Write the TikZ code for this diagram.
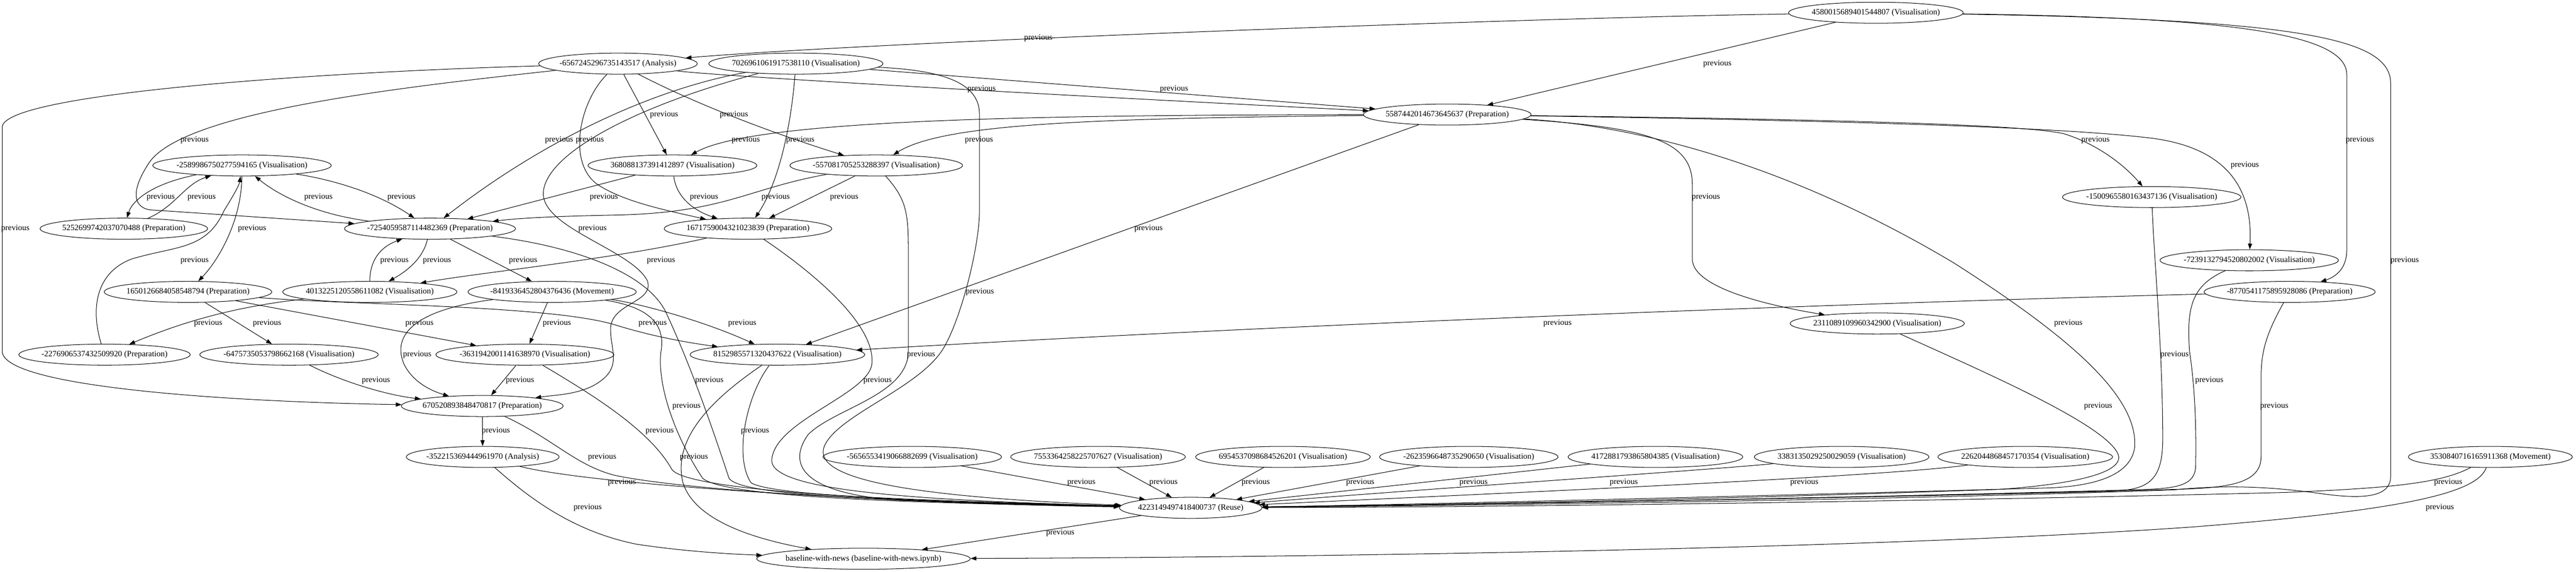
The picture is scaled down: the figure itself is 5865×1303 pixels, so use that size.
\documentclass[tikz,border=0pt]{standalone}
\usepackage{fontspec}
\setmainfont{Liberation Serif}
\usetikzlibrary{shapes.geometric,arrows.meta}
\newcommand{\cellfont}{\fontsize{14pt}{17pt}\selectfont}
\begin{document}
\begin{tikzpicture}[x=0.75pt, y=-0.75pt, line width=0.9pt,
  cell/.style={draw, ellipse, minimum height=36pt, inner xsep=-4pt, inner ysep=2pt, font=\cellfont},
  prev/.style={-{Triangle[length=10pt,width=7pt]}},
  lbl/.style={font=\cellfont, inner sep=0pt}]
\fill[white] (0,0) rectangle (5865,1303);
\useasboundingbox (0,0) rectangle (5865,1303);

\node[cell] (V4580) at (4271,29) {4580015689401544807 (Visualisation)};
\node[cell] (A6567) at (1407,145) {-6567245296735143517 (Analysis)};
\node[cell] (V7026) at (1812,145) {7026961061917538110 (Visualisation)};
\node[cell] (P5587) at (3295,261) {5587442014673645637 (Preparation)};
\node[cell] (V2589) at (551,377) {-2589986750277594165 (Visualisation)};
\node[cell] (V3680) at (1531,377) {368088137391412897 (Visualisation)};
\node[cell] (V5570) at (1995,377) {-557081705253288397 (Visualisation)};
\node[cell] (V1500) at (4899,449) {-1500965580163437136 (Visualisation)};
\node[cell] (P5252) at (282,521) {5252699742037070488 (Preparation)};
\node[cell] (P7254) at (979,521) {-7254059587114482369 (Preparation)};
\node[cell] (P1671) at (1703,521) {1671759004321023839 (Preparation)};
\node[cell] (V7239) at (5121,593) {-7239132794520802002 (Visualisation)};
\node[cell] (P1650) at (428,665) {1650126684058548794 (Preparation)};
\node[cell] (V4013) at (842,665) {4013225120558611082 (Visualisation)};
\node[cell] (M8419) at (1257,665) {-8419336452804376436 (Movement)};
\node[cell] (P8770) at (5213,665) {-8770541175895928086 (Preparation)};
\node[cell] (V2311) at (4274,737) {2311089109960342900 (Visualisation)};
\node[cell] (P2276) at (238,808) {-2276906537432509920 (Preparation)};
\node[cell] (V6475) at (658,808) {-6475735053798662168 (Visualisation)};
\node[cell] (V3631) at (1195,808) {-3631942001141638970 (Visualisation)};
\node[cell] (V8152) at (1770,808) {8152985571320437622 (Visualisation)};
\node[cell] (P6705) at (1098,925) {670520893848470817 (Preparation)};
\node[cell] (A3522) at (1099,1041) {-352215369444961970 (Analysis)};
\node[cell] (V5656) at (2077,1041) {-5656553419066882699 (Visualisation)};
\node[cell] (V7553) at (2500,1041) {7553364258225707627 (Visualisation)};
\node[cell] (V6954) at (2921,1041) {6954537098684526201 (Visualisation)};
\node[cell] (V2623) at (3344,1041) {-2623596648735290650 (Visualisation)};
\node[cell] (V4172) at (3769,1041) {4172881793865804385 (Visualisation)};
\node[cell] (V3383) at (4193,1041) {3383135029250029059 (Visualisation)};
\node[cell] (V2262) at (4611,1041) {2262044868457170354 (Visualisation)};
\node[cell] (M3530) at (5670,1041) {3530840716165911368 (Movement)};
\node[cell] (R4223) at (2711,1157) {4223149497418400737 (Reuse)};
\node[cell] (NB) at (1966,1273) {baseline-with-news (baseline-with-news.ipynb)};

\draw[prev] (V4580) .. controls (3500,40) and (2000,95) .. (A6567) node[lbl] at (2364,87) {previous};
\draw[prev] (V4580) -- (P5587) node[lbl] at (3910,145) {previous};
\draw[prev] (V4580) .. controls (5100,40) and (5343,80) .. (5343,170) -- (5343,570) .. controls (5343,610) and (5320,630) .. (P8770) node[lbl] at (5373,319) {previous};
\draw[prev] (V4580) .. controls (5250,45) and (5443,90) .. (5443,190) -- (5443,1085) .. controls (5443,1130) and (5390,1140) .. (5280,1124) .. controls (5150,1106) and (5050,1106) .. (4950,1116) .. controls (4300,1140) and (3300,1152) .. (R4223) node[lbl] at (5475,593) {previous};

\draw[prev] (A6567) .. controls (1650,175) and (2500,222) .. (P5587) node[lbl] at (2235,203) {previous};
\draw[prev] (V7026) -- (P5587) node[lbl] at (2673,203) {previous};
\draw[prev] (A6567) -- (V3680) node[lbl] at (1512,261) {previous};
\draw[prev] (A6567) .. controls (1600,245) and (1780,310) .. (V5570) node[lbl] at (1671,261) {previous};
\draw[prev] (P5587) .. controls (2400,262) and (1720,270) .. (V3680) node[lbl] at (1698,319) {previous};
\draw[prev] (P5587) .. controls (2500,270) and (2150,280) .. (V5570) node[lbl] at (2229,319) {previous};

\draw[prev] (A6567) .. controls (900,200) and (420,255) .. (340,370) .. controls (300,430) and (300,470) .. (340,478) -- (P7254) node[lbl] at (443,319) {previous};
\draw[prev] (V7026) .. controls (1500,200) and (1250,310) .. (P7254) node[lbl] at (1273,319) {previous};
\draw[prev] (V7026) .. controls (1450,240) and (1240,350) .. (1237,440) .. controls (1235,520) and (1440,570) .. (1474,640) .. controls (1490,690) and (1390,690) .. (1390,750) .. controls (1390,800) and (1420,840) .. (1352,878) .. controls (1310,900) and (1260,900) .. (P6705) node[lbl] at (1766,449) {previous};
\draw[prev] (V3680) -- (P7254) node[lbl] at (1375,449) {previous};
\draw[prev] (V5570) .. controls (1700,430) and (1650,485) .. (1400,490) .. controls (1300,492) and (1200,495) .. (P7254) node[lbl] at (1349,521) {previous};
\draw[prev] (A6567) .. controls (1320,230) and (1290,370) .. (1360,420) .. controls (1420,460) and (1520,480) .. (P1671) node[lbl] at (1343,319) {previous};
\draw[prev] (V3680) .. controls (1540,450) and (1580,480) .. (P1671) node[lbl] at (1603,449) {previous};
\draw[prev] (V7026) .. controls (1800,300) and (1770,420) .. (P1671) node[lbl] at (1822,319) {previous};
\draw[prev] (V5570) -- (P1671) node[lbl] at (1922,449) {previous};
\draw[prev] (A6567) .. controls (700,165) and (5,215) .. (5,290) -- (5,800) .. controls (5,880) and (500,915) .. (P6705) node[lbl] at (35,521) {previous};

\draw[prev] (V2589) .. controls (340,420) and (300,460) .. (P5252) node[lbl] at (366,449) {previous};
\draw[prev] (P5252) .. controls (400,470) and (420,420) .. (V2589) node[lbl] at (459,449) {previous};
\draw[prev] (P7254) .. controls (730,490) and (640,450) .. (V2589) node[lbl] at (725,449) {previous};
\draw[prev] (V2589) .. controls (760,410) and (860,440) .. (P7254) node[lbl] at (914,449) {previous};
\draw[prev] (P2276) .. controls (205,700) and (220,620) .. (300,590) .. controls (400,560) and (470,570) .. (510,480) .. controls (535,440) and (545,420) .. (V2589) node[lbl] at (574,521) {previous};
\draw[prev] (V2589) .. controls (550,500) and (500,590) .. (P1650) node[lbl] at (443,593) {previous};
\draw[prev] (V4013) .. controls (842,600) and (860,565) .. (P7254) node[lbl] at (898,593) {previous};
\draw[prev] (P7254) .. controls (965,580) and (940,610) .. (V4013) node[lbl] at (995,593) {previous};
\draw[prev] (P1671) .. controls (1400,590) and (1100,620) .. (V4013) node[lbl] at (1505,593) {previous};
\draw[prev] (P7254) -- (M8419) node[lbl] at (1191,593) {previous};

\draw[prev] (P7254) .. controls (1300,560) and (1480,620) .. (1520,720) .. controls (1580,850) and (1630,1000) .. (1660,1090) .. controls (1690,1130) and (2000,1140) .. (R4223) node[lbl] at (1615,867) {previous};
\draw[prev] (P1671) .. controls (1850,620) and (1995,740) .. (1985,830) .. controls (1975,900) and (1760,960) .. (1757,1050) .. controls (1760,1120) and (2100,1140) .. (R4223) node[lbl] at (1998,867) {previous};
\draw[prev] (V5570) .. controls (2060,450) and (2068,480) .. (2068,560) -- (2068,800) .. controls (2068,900) and (1900,930) .. (1840,990) .. controls (1790,1060) and (1830,1125) .. (2050,1140) -- (R4223) node[lbl] at (2097,808) {previous};
\draw[prev] (V7026) .. controls (2150,160) and (2230,190) .. (2230,260) -- (2230,480) .. controls (2230,560) and (2190,720) .. (2150,790) .. controls (2100,880) and (1920,940) .. (1880,1010) .. controls (1840,1080) and (2000,1130) .. (R4223) node[lbl] at (2231,665) {previous};

\draw[prev] (P5587) .. controls (4000,270) and (4600,280) .. (4700,305) .. controls (4780,330) and (4840,380) .. (V1500) node[lbl] at (4771,319) {previous};
\draw[prev] (P5587) .. controls (4200,275) and (4700,290) .. (4900,315) .. controls (5090,340) and (5128,450) .. (V7239) node[lbl] at (5111,377) {previous};
\draw[prev] (P5587) .. controls (3750,290) and (3853,320) .. (3853,420) -- (3853,590) .. controls (3853,660) and (4050,700) .. (V2311) node[lbl] at (3884,449) {previous};
\draw[prev] (P5587) -- (V8152) node[lbl] at (2615,521) {previous};
\draw[prev] (P5587) .. controls (3800,290) and (4150,420) .. (4450,600) .. controls (4700,760) and (4870,900) .. (4860,1020) .. controls (4850,1090) and (4750,1110) .. (4650,1112) .. controls (4000,1130) and (3200,1150) .. (R4223) node[lbl] at (4709,737) {previous};

\draw[prev] (V4013) .. controls (520,700) and (400,740) .. (P2276) node[lbl] at (474,737) {previous};
\draw[prev] (P1650) -- (V6475) node[lbl] at (608,737) {previous};
\draw[prev] (P1650) -- (V3631) node[lbl] at (955,737) {previous};
\draw[prev] (P1650) .. controls (800,695) and (1250,695) .. (1400,740) .. controls (1480,765) and (1560,780) .. (V8152) node[lbl] at (1486,737) {previous};
\draw[prev] (M8419) -- (V3631) node[lbl] at (1268,737) {previous};
\draw[prev] (M8419) .. controls (950,705) and (890,760) .. (920,830) .. controls (940,870) and (980,890) .. (P6705) node[lbl] at (950,808) {previous};
\draw[prev] (M8419) .. controls (1450,690) and (1600,730) .. (V8152) node[lbl] at (1690,737) {previous};
\draw[prev] (M8419) .. controls (1480,700) and (1515,740) .. (1505,800) .. controls (1495,880) and (1540,1000) .. (1600,1090) .. controls (1650,1130) and (2000,1145) .. (R4223) node[lbl] at (1563,925) {previous};
\draw[prev] (V6475) .. controls (780,870) and (880,900) .. (P6705) node[lbl] at (856,867) {previous};
\draw[prev] (V3631) -- (P6705) node[lbl] at (1184,867) {previous};
\draw[prev] (V3631) .. controls (1350,900) and (1480,980) .. (1530,1070) .. controls (1560,1110) and (1900,1140) .. (R4223) node[lbl] at (1502,982) {previous};
\draw[prev] (V8152) .. controls (1700,900) and (1670,1040) .. (1710,1100) .. controls (1760,1130) and (2100,1140) .. (R4223) node[lbl] at (1719,982) {previous};
\draw[prev] (V8152) .. controls (1620,910) and (1530,1000) .. (1555,1100) .. controls (1580,1180) and (1700,1225) .. (NB) node[lbl] at (1580,1041) {previous};
\draw[prev] (P8770) .. controls (4300,688) and (3000,735) .. (V8152) node[lbl] at (3546,737) {previous};

\draw[prev] (P6705) -- (A3522) node[lbl] at (1129,982) {previous};
\draw[prev] (P6705) .. controls (1260,1000) and (1310,1060) .. (1400,1083) .. controls (1600,1125) and (2200,1150) .. (R4223) node[lbl] at (1371,1041) {previous};
\draw[prev] (A3522) .. controls (1350,1105) and (2000,1145) .. (R4223) node[lbl] at (1416,1099) {previous};
\draw[prev] (A3522) .. controls (1200,1130) and (1300,1210) .. (1450,1240) .. controls (1550,1255) and (1650,1262) .. (NB) node[lbl] at (1338,1157) {previous};

\draw[prev] (V5656) -- (R4223) node[lbl] at (2462,1099) {previous};
\draw[prev] (V7553) -- (R4223) node[lbl] at (2649,1099) {previous};
\draw[prev] (V6954) -- (R4223) node[lbl] at (2859,1099) {previous};
\draw[prev] (V2623) -- (R4223) node[lbl] at (3097,1099) {previous};
\draw[prev] (V4172) -- (R4223) node[lbl] at (3355,1099) {previous};
\draw[prev] (V3383) .. controls (3900,1070) and (3300,1110) .. (R4223) node[lbl] at (3697,1099) {previous};
\draw[prev] (V2262) .. controls (4300,1085) and (3500,1120) .. (R4223) node[lbl] at (4108,1099) {previous};
\draw[prev] (M3530) .. controls (5560,1100) and (5450,1112) .. (5200,1122) .. controls (4500,1140) and (3500,1155) .. (R4223) node[lbl] at (5574,1099) {previous};
\draw[prev] (M3530) .. controls (5640,1120) and (5500,1160) .. (5000,1200) .. controls (4300,1250) and (3000,1270) .. (NB) node[lbl] at (5555,1157) {previous};
\draw[prev] (R4223) -- (NB) node[lbl] at (2414,1214) {previous};

\draw[prev] (V1500) .. controls (4905,600) and (4924,800) .. (4924,1000) .. controls (4924,1110) and (4880,1118) .. (4780,1120) .. controls (4200,1135) and (3300,1150) .. (R4223) node[lbl] at (4951,808) {previous};
\draw[prev] (V7239) .. controls (4990,650) and (4978,700) .. (4985,800) .. controls (5000,900) and (5000,1000) .. (4999,1060) .. controls (4999,1110) and (4950,1114) .. (4850,1116) .. controls (4200,1135) and (3300,1150) .. (R4223) node[lbl] at (5030,867) {previous};
\draw[prev] (P8770) .. controls (5160,760) and (5148,800) .. (5148,860) -- (5148,1040) .. controls (5148,1100) and (5080,1112) .. (4950,1115) .. controls (4200,1135) and (3300,1150) .. (R4223) node[lbl] at (5178,925) {previous};
\draw[prev] (V2311) .. controls (4500,840) and (4780,960) .. (4820,1030) .. controls (4850,1080) and (4700,1105) .. (4550,1115) .. controls (4000,1135) and (3300,1150) .. (R4223) node[lbl] at (4777,925) {previous};

\end{tikzpicture}
\end{document}
